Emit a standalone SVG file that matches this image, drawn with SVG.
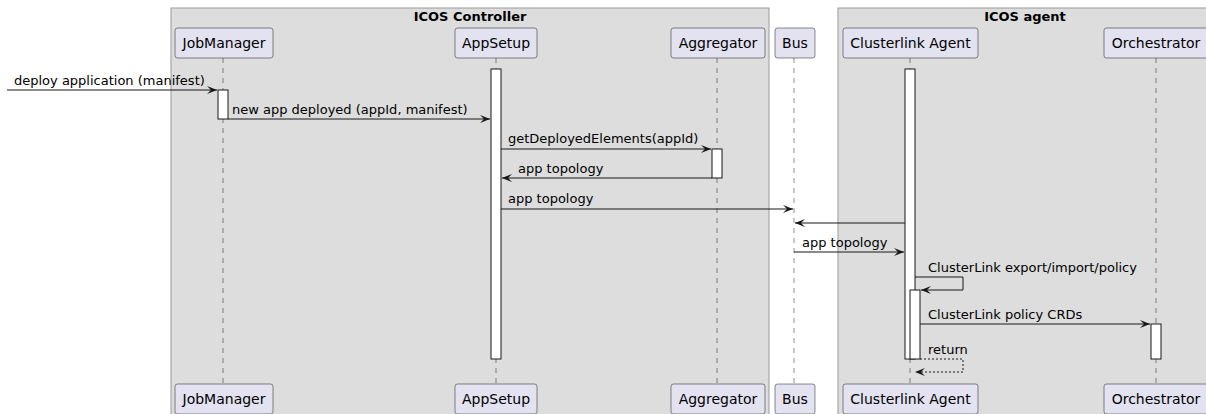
<svg xmlns="http://www.w3.org/2000/svg" width="1206" height="414" viewBox="0 0 1206 414">
<defs>
<marker id="ah" viewBox="0 0 10 8" refX="10" refY="4" markerWidth="10" markerHeight="8" markerUnits="userSpaceOnUse" orient="auto">
<path d="M0,0 L10,4 L0,8 L4,4 Z" fill="#181818"/>
</marker>
</defs>
<style>
.grp{fill:#DDDDDD;stroke:#9A9A9A;stroke-width:1}
.gt{font-family:"DejaVu Sans",sans-serif;font-size:13px;font-weight:bold;fill:#000;text-anchor:middle}
.pb{fill:#E2E2F0;stroke:#181818;stroke-width:0.5}
.pt{font-family:"DejaVu Sans",sans-serif;font-size:14px;fill:#000;text-anchor:middle}
.ll{stroke:#181818;stroke-width:0.5;stroke-dasharray:5,5;fill:none}
.act{fill:#FFFFFF;stroke:#181818;stroke-width:1}
.msg{stroke:#181818;stroke-width:1;fill:none;marker-end:url(#ah)}
.dot{stroke-dasharray:2,2}
.mt{font-family:"DejaVu Sans",sans-serif;font-size:13px;fill:#000}
</style>
<g id="box-icos-controller">
<rect class="grp" x="171" y="8" width="598" height="410"/>
<text class="gt" x="470" y="21">ICOS Controller</text>
</g>
<g id="box-icos-agent">
<rect class="grp" x="838" y="8" width="380" height="410"/>
<text class="gt" x="1025" y="21">ICOS agent</text>
</g>
<g id="lifelines">
<line class="ll" x1="223" y1="58" x2="223" y2="384"/>
<line class="ll" x1="496" y1="58" x2="496" y2="384"/>
<line class="ll" x1="717" y1="58" x2="717" y2="384"/>
<line class="ll" x1="794" y1="58" x2="794" y2="384"/>
<line class="ll" x1="910" y1="58" x2="910" y2="384"/>
<line class="ll" x1="1156" y1="58" x2="1156" y2="384"/>
</g>
<g id="JobManager">
<rect class="pb" x="175" y="28" width="98" height="30" rx="2.5"/>
<text class="pt" x="224" y="48">JobManager</text>
<rect class="pb" x="175" y="384" width="98" height="30" rx="2.5"/>
<text class="pt" x="224" y="404">JobManager</text>
<rect class="act" x="218" y="90" width="10" height="29"/>
</g>
<g id="AppSetup">
<rect class="pb" x="455" y="28" width="82" height="30" rx="2.5"/>
<text class="pt" x="496" y="48">AppSetup</text>
<rect class="pb" x="455" y="384" width="82" height="30" rx="2.5"/>
<text class="pt" x="496" y="404">AppSetup</text>
<rect class="act" x="491" y="69" width="10" height="290"/>
</g>
<g id="Aggregator">
<rect class="pb" x="671" y="28" width="94" height="30" rx="2.5"/>
<text class="pt" x="718" y="48">Aggregator</text>
<rect class="pb" x="671" y="384" width="94" height="30" rx="2.5"/>
<text class="pt" x="718" y="404">Aggregator</text>
<rect class="act" x="712" y="149" width="10" height="29"/>
</g>
<g id="Bus">
<rect class="pb" x="775" y="28" width="40" height="30" rx="2.5"/>
<text class="pt" x="795" y="48">Bus</text>
<rect class="pb" x="775" y="384" width="40" height="30" rx="2.5"/>
<text class="pt" x="795" y="404">Bus</text>
</g>
<g id="ClusterlinkAgent">
<rect class="pb" x="843" y="28" width="135" height="30" rx="2.5"/>
<text class="pt" x="910.5" y="48">Clusterlink Agent</text>
<rect class="pb" x="843" y="384" width="135" height="30" rx="2.5"/>
<text class="pt" x="910.5" y="404">Clusterlink Agent</text>
<rect class="act" x="905" y="69" width="10" height="290"/>
<rect class="act" x="910" y="290" width="10" height="69"/>
</g>
<g id="Orchestrator">
<rect class="pb" x="1104" y="28" width="104" height="30" rx="2.5"/>
<text class="pt" x="1156" y="48">Orchestrator</text>
<rect class="pb" x="1104" y="384" width="104" height="30" rx="2.5"/>
<text class="pt" x="1156" y="404">Orchestrator</text>
<rect class="act" x="1151" y="324" width="10" height="35"/>
</g>
<g id="connectors">
<line class="msg" x1="7" y1="90" x2="217" y2="90"/>
<text class="mt" x="14" y="85">deploy application (manifest)</text>
<line class="msg" x1="228" y1="119" x2="490" y2="119"/>
<text class="mt" x="232" y="114">new app deployed (appId, manifest)</text>
<line class="msg" x1="501" y1="149" x2="711" y2="149"/>
<text class="mt" x="508" y="143">getDeployedElements(appId)</text>
<line class="msg" x1="712" y1="178" x2="502" y2="178"/>
<text class="mt" x="518" y="173">app topology</text>
<line class="msg" x1="501" y1="209" x2="793" y2="209"/>
<text class="mt" x="508" y="203">app topology</text>
<line class="msg" x1="905" y1="223" x2="795" y2="223"/>
<line class="msg" x1="794" y1="252" x2="904" y2="252"/>
<text class="mt" x="802" y="247">app topology</text>
<polyline class="msg" points="915,277 963,277 963,290 921,290"/>
<text class="mt" x="928" y="272">ClusterLink export/import/policy</text>
<line class="msg" x1="920" y1="324" x2="1150" y2="324"/>
<text class="mt" x="928" y="319">ClusterLink policy CRDs</text>
<polyline class="msg dot" points="920,359 963,359 963,372 915,372"/>
<text class="mt" x="928" y="354">return</text>
</g>
</svg>
